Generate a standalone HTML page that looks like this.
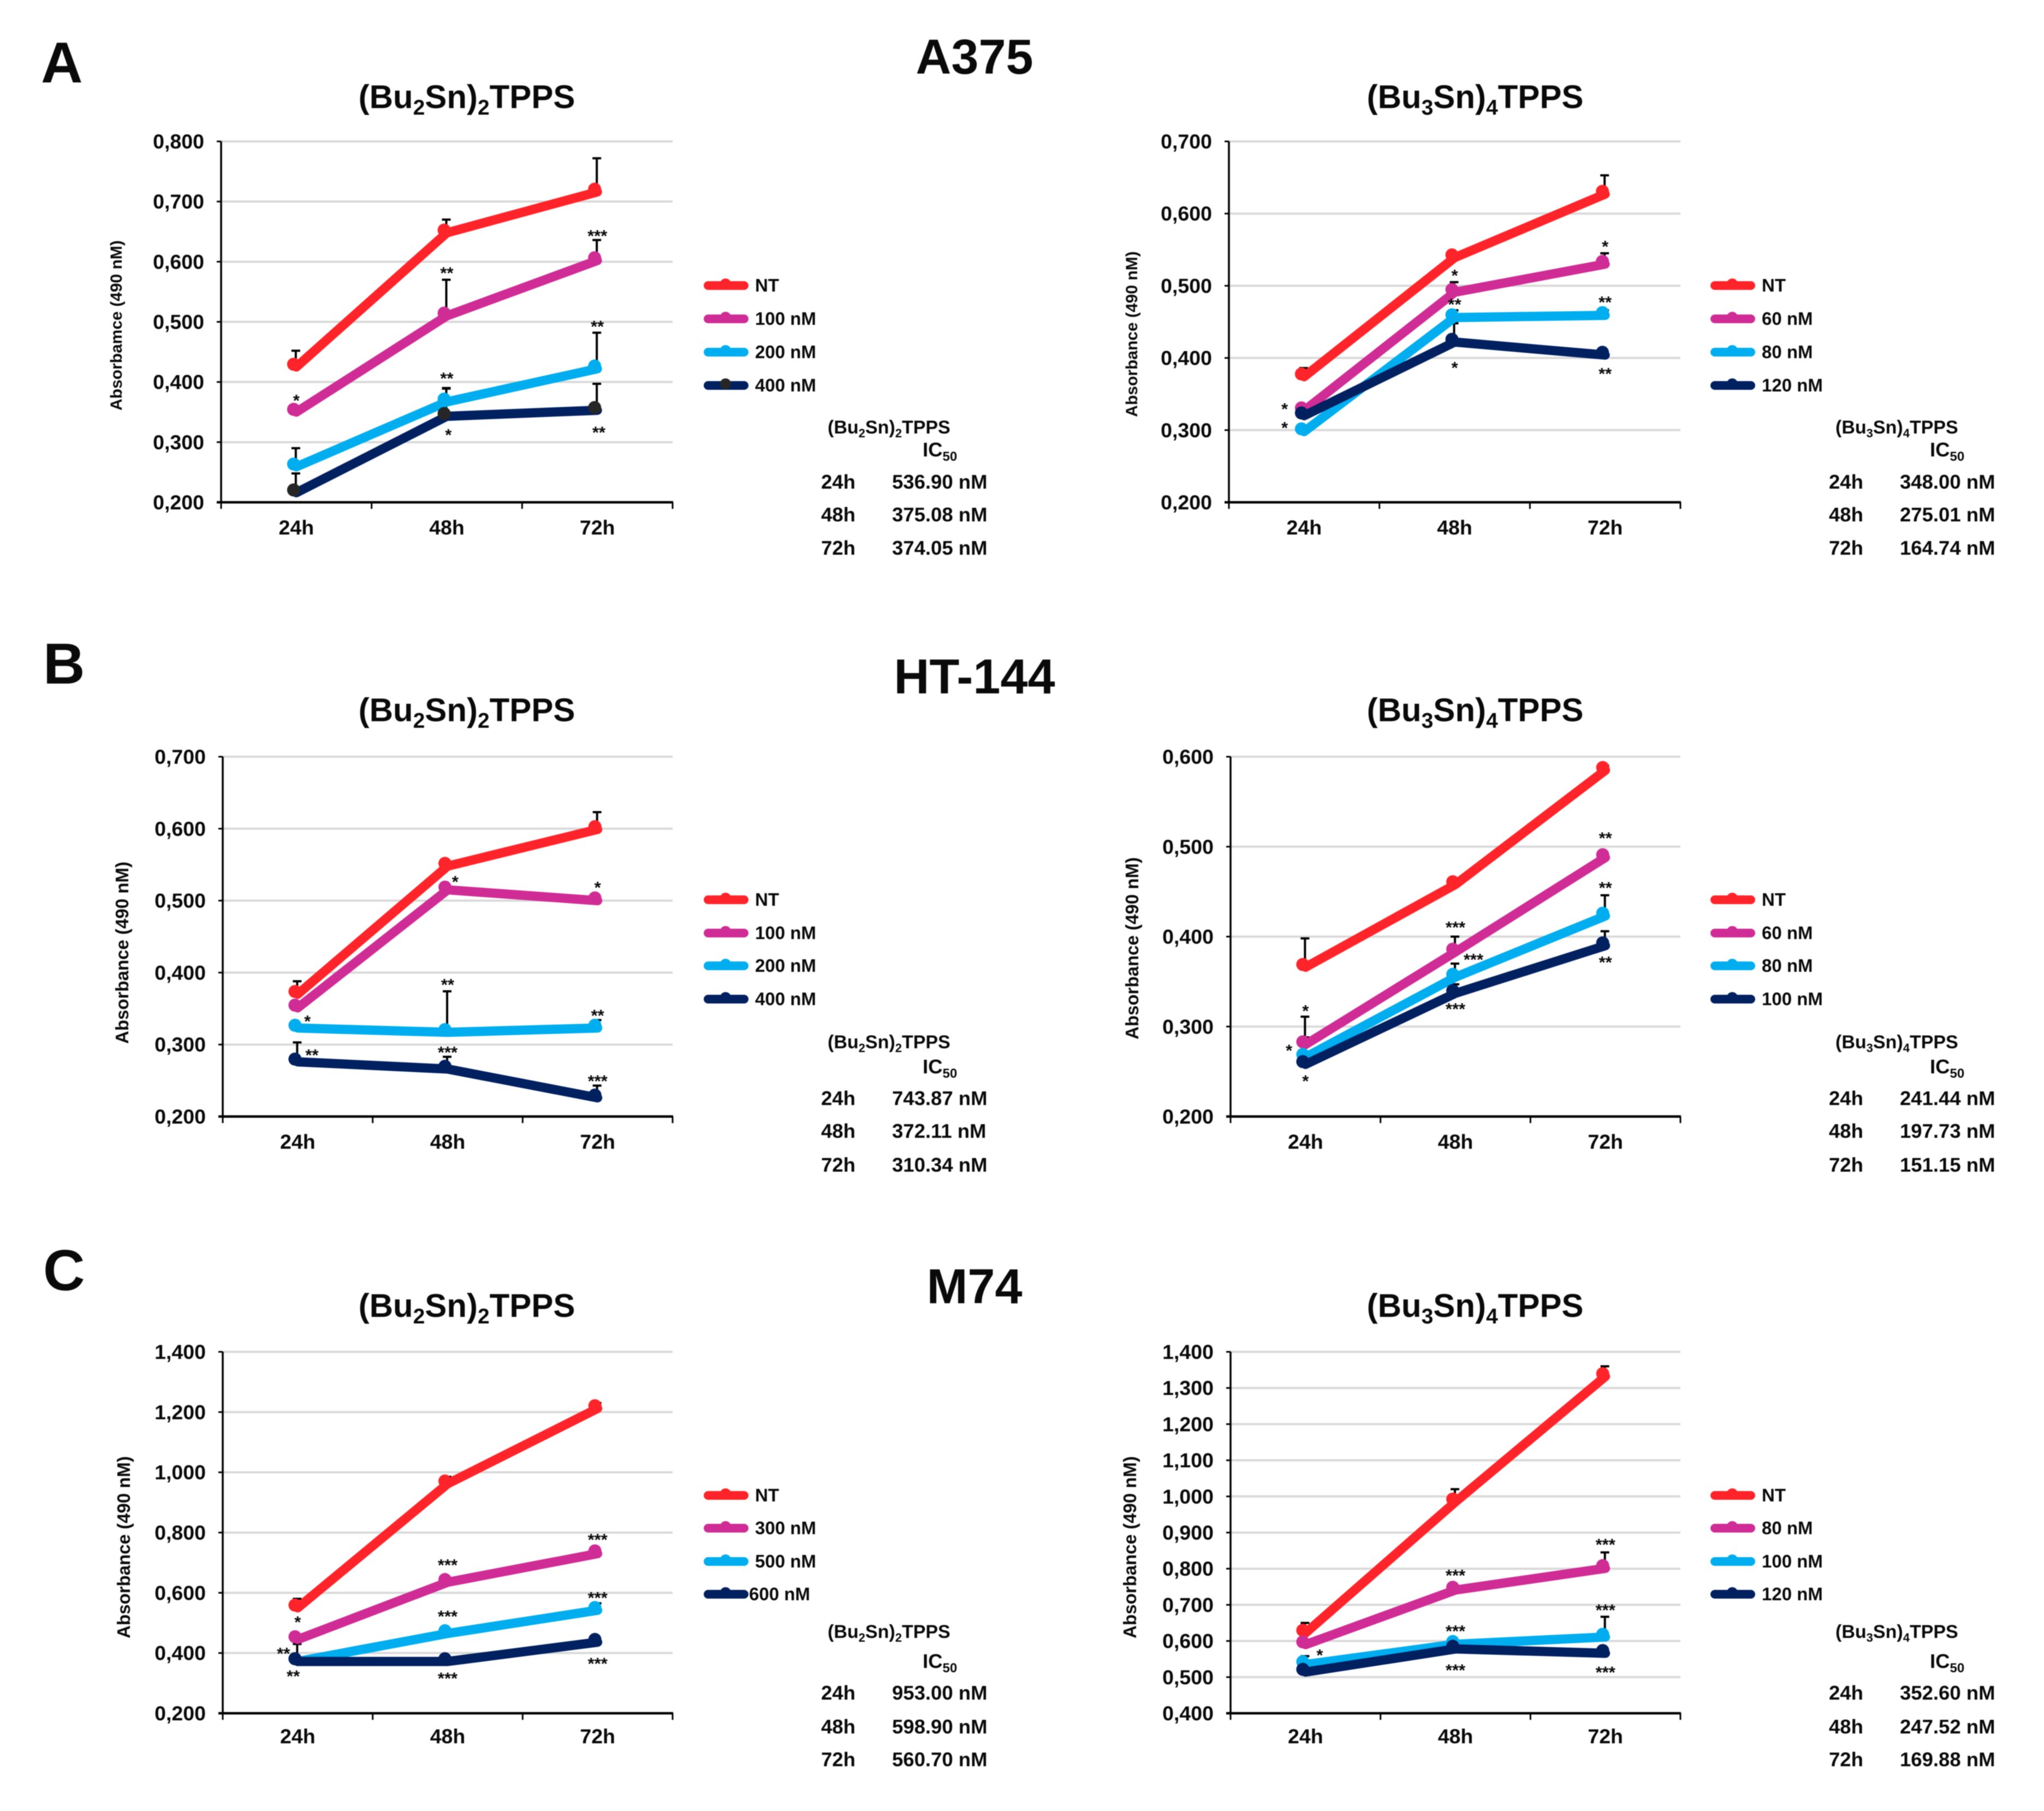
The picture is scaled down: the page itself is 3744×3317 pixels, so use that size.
<!DOCTYPE html>
<html lang="en">
<head>
<meta charset="utf-8">
<title>Absorbance of melanoma cell lines</title>
<style>
html,body{margin:0;padding:0;background:#fff;}
svg{display:block;filter:blur(0.8px);}
text{font-family:"Liberation Sans",Arial,sans-serif;font-weight:bold;fill:#0a0a0a;}
.panel{font-size:106px;}
.line{font-size:90px;text-anchor:middle;}
.title{font-size:60px;text-anchor:middle;}
.tt{font-size:34px;}
.ic{font-size:36.5px;}
.time{font-size:36.5px;}
.val{font-size:36.5px;}
</style>
</head>
<body>
<svg id="figure" width="3744" height="3317" viewBox="0 0 3744 3317" xmlns="http://www.w3.org/2000/svg">
<rect width="3744" height="3317" fill="#ffffff"/>
<text class="panel" x="75" y="151">A</text>
<text class="panel" x="79" y="1252">B</text>
<text class="panel" x="79" y="2363">C</text>
<text class="line" x="1785" y="135">A375</text>
<text class="line" x="1785" y="1270">HT-144</text>
<text class="line" x="1785" y="2387">M74</text>

<text class="title" x="855" y="198">(Bu<tspan dy="12" font-size="39">2</tspan><tspan dy="-12">Sn)</tspan><tspan dy="12" font-size="39">2</tspan><tspan dy="-12">TPPS</tspan></text>
<text class="title" x="2702" y="198">(Bu<tspan dy="12" font-size="39">3</tspan><tspan dy="-12">Sn)</tspan><tspan dy="12" font-size="39">4</tspan><tspan dy="-12">TPPS</tspan></text>
<text class="title" x="855" y="1321">(Bu<tspan dy="12" font-size="39">2</tspan><tspan dy="-12">Sn)</tspan><tspan dy="12" font-size="39">2</tspan><tspan dy="-12">TPPS</tspan></text>
<text class="title" x="2702" y="1321">(Bu<tspan dy="12" font-size="39">3</tspan><tspan dy="-12">Sn)</tspan><tspan dy="12" font-size="39">4</tspan><tspan dy="-12">TPPS</tspan></text>
<text class="title" x="855" y="2412">(Bu<tspan dy="12" font-size="39">2</tspan><tspan dy="-12">Sn)</tspan><tspan dy="12" font-size="39">2</tspan><tspan dy="-12">TPPS</tspan></text>
<text class="title" x="2702" y="2412">(Bu<tspan dy="12" font-size="39">3</tspan><tspan dy="-12">Sn)</tspan><tspan dy="12" font-size="39">4</tspan><tspan dy="-12">TPPS</tspan></text>

<g>
<text class="tt" x="1516" y="794">(Bu<tspan dy="7" font-size="22">2</tspan><tspan dy="-7">Sn)</tspan><tspan dy="7" font-size="22">2</tspan><tspan dy="-7">TPPS</tspan></text>
<text class="ic" x="1690" y="836">IC<tspan dy="8" font-size="24">50</tspan></text>
<text class="time" x="1504" y="895">24h</text><text class="val" x="1634" y="895">536.90 nM</text>
<text class="time" x="1504" y="955">48h</text><text class="val" x="1634" y="955">375.08 nM</text>
<text class="time" x="1504" y="1016">72h</text><text class="val" x="1634" y="1016">374.05 nM</text>
</g>
<g>
<text class="tt" x="3362" y="794">(Bu<tspan dy="7" font-size="22">3</tspan><tspan dy="-7">Sn)</tspan><tspan dy="7" font-size="22">4</tspan><tspan dy="-7">TPPS</tspan></text>
<text class="ic" x="3535" y="836">IC<tspan dy="8" font-size="24">50</tspan></text>
<text class="time" x="3350" y="895">24h</text><text class="val" x="3480" y="895">348.00 nM</text>
<text class="time" x="3350" y="955">48h</text><text class="val" x="3480" y="955">275.01 nM</text>
<text class="time" x="3350" y="1016">72h</text><text class="val" x="3480" y="1016">164.74 nM</text>
</g>
<g>
<text class="tt" x="1516" y="1920">(Bu<tspan dy="7" font-size="22">2</tspan><tspan dy="-7">Sn)</tspan><tspan dy="7" font-size="22">2</tspan><tspan dy="-7">TPPS</tspan></text>
<text class="ic" x="1690" y="1966">IC<tspan dy="8" font-size="24">50</tspan></text>
<text class="time" x="1504" y="2024">24h</text><text class="val" x="1634" y="2024">743.87 nM</text>
<text class="time" x="1504" y="2084">48h</text><text class="val" x="1634" y="2084">372.11 nM</text>
<text class="time" x="1504" y="2146">72h</text><text class="val" x="1634" y="2146">310.34 nM</text>
</g>
<g>
<text class="tt" x="3362" y="1920">(Bu<tspan dy="7" font-size="22">3</tspan><tspan dy="-7">Sn)</tspan><tspan dy="7" font-size="22">4</tspan><tspan dy="-7">TPPS</tspan></text>
<text class="ic" x="3535" y="1966">IC<tspan dy="8" font-size="24">50</tspan></text>
<text class="time" x="3350" y="2024">24h</text><text class="val" x="3480" y="2024">241.44 nM</text>
<text class="time" x="3350" y="2084">48h</text><text class="val" x="3480" y="2084">197.73 nM</text>
<text class="time" x="3350" y="2146">72h</text><text class="val" x="3480" y="2146">151.15 nM</text>
</g>
<g>
<text class="tt" x="1516" y="3000">(Bu<tspan dy="7" font-size="22">2</tspan><tspan dy="-7">Sn)</tspan><tspan dy="7" font-size="22">2</tspan><tspan dy="-7">TPPS</tspan></text>
<text class="ic" x="1690" y="3055">IC<tspan dy="8" font-size="24">50</tspan></text>
<text class="time" x="1504" y="3113">24h</text><text class="val" x="1634" y="3113">953.00 nM</text>
<text class="time" x="1504" y="3175">48h</text><text class="val" x="1634" y="3175">598.90 nM</text>
<text class="time" x="1504" y="3235">72h</text><text class="val" x="1634" y="3235">560.70 nM</text>
</g>
<g>
<text class="tt" x="3362" y="3000">(Bu<tspan dy="7" font-size="22">3</tspan><tspan dy="-7">Sn)</tspan><tspan dy="7" font-size="22">4</tspan><tspan dy="-7">TPPS</tspan></text>
<text class="ic" x="3535" y="3055">IC<tspan dy="8" font-size="24">50</tspan></text>
<text class="time" x="3350" y="3113">24h</text><text class="val" x="3480" y="3113">352.60 nM</text>
<text class="time" x="3350" y="3175">48h</text><text class="val" x="3480" y="3175">247.52 nM</text>
<text class="time" x="3350" y="3235">72h</text><text class="val" x="3480" y="3235">169.88 nM</text>
</g>
</svg>
<script>
// ---------- shared ----------
const categories = ['24h', '48h', '72h'];

// ---------- A375 (Bu2Sn)2TPPS ----------
const a1Ticks = ['0,200', '0,300', '0,400', '0,500', '0,600', '0,700', '0,800'];
const a1Doses = ['NT', '100 nM', '200 nM', '400 nM'];
const a1Nt = [0.425, 0.648, 0.716];
const a1Low = [0.350, 0.510, 0.602];
const a1Mid = [0.259, 0.367, 0.422];
const a1High = [0.216, 0.343, 0.353];
const a1NtErr = [0.452, 0.670, 0.772];
const a1LowErr = [null, 0.570, 0.636];
const a1MidErr = [0.290, 0.390, 0.482];
const a1HighErr = [0.248, 0.389, 0.397];
const a1Stars = [[0, 0.376, '*'], [1, 0.588, '**'], [2, 0.650, '***'], [1, 0.413, '**'], [2, 0.499, '**'], [1.01, 0.319, '*'], [2.01, 0.323, '**']];

// ---------- A375 (Bu3Sn)4TPPS ----------
const a2Ticks = ['0,200', '0,300', '0,400', '0,500', '0,600', '0,700'];
const a2Doses = ['NT', '60 nM', '80 nM', '120 nM'];
const a2Nt = [0.374, 0.539, 0.627];
const a2Low = [0.327, 0.491, 0.530];
const a2Mid = [0.298, 0.456, 0.459];
const a2High = [0.320, 0.422, 0.404];
const a2NtErr = [0.386, null, 0.653];
const a2LowErr = [null, 0.505, 0.545];
const a2MidErr = [null, 0.466, 0.466];
const a2HighErr = [null, 0.448, null];
const a2Stars = [[-0.13, 0.335, '*'], [-0.13, 0.309, '*'], [1, 0.520, '*'], [1, 0.480, '**'], [1, 0.392, '*'], [2, 0.560, '*'], [2, 0.483, '**'], [2, 0.384, '**']];

// ---------- HT-144 (Bu2Sn)2TPPS ----------
const b1Ticks = ['0,200', '0,300', '0,400', '0,500', '0,600', '0,700'];
const b1Doses = ['NT', '100 nM', '200 nM', '400 nM'];
const b1Nt = [0.370, 0.548, 0.599];
const b1Low = [0.351, 0.515, 0.500];
const b1Mid = [0.323, 0.317, 0.323];
const b1High = [0.276, 0.266, 0.226];
const b1NtErr = [0.388, null, 0.623];
const b1LowErr = [null, null, null];
const b1MidErr = [null, 0.374, 0.334];
const b1HighErr = [0.303, 0.283, 0.243];
const b1Stars = [[0.065, 0.338, '*'], [0.095, 0.291, '**'], [1.05, 0.532, '*'], [1, 0.389, '**'], [1, 0.295, '***'], [2, 0.524, '*'], [2, 0.346, '**'], [2, 0.255, '***']];

// ---------- HT-144 (Bu3Sn)4TPPS ----------
const b2Ticks = ['0,200', '0,300', '0,400', '0,500', '0,600'];
const b2Doses = ['NT', '60 nM', '80 nM', '100 nM'];
const b2Nt = [0.366, 0.458, 0.585];
const b2Low = [0.280, 0.383, 0.488];
const b2Mid = [0.266, 0.355, 0.423];
const b2High = [0.258, 0.337, 0.390];
const b2NtErr = [0.398, 0.465, 0.590];
const b2LowErr = [0.311, 0.400, null];
const b2MidErr = [0.288, 0.370, 0.446];
const b2HighErr = [null, 0.347, 0.406];
const b2Stars = [[2, 0.514, '**'], [2, 0.459, '**'], [1, 0.415, '***'], [1.12, 0.379, '***'], [1, 0.324, '***'], [2, 0.376, '**'], [0, 0.322, '*'], [-0.11, 0.278, '*'], [0, 0.244, '*']];

// ---------- M74 (Bu2Sn)2TPPS ----------
const c1Ticks = ['0,200', '0,400', '0,600', '0,800', '1,000', '1,200', '1,400'];
const c1Doses = ['NT', '300 nM', '500 nM', '600 nM'];
const c1Nt = [0.550, 0.962, 1.212];
const c1Low = [0.445, 0.635, 0.730];
const c1Mid = [0.372, 0.465, 0.542];
const c1High = [0.372, 0.372, 0.436];
const c1NtErr = [0.580, 0.985, 1.230];
const c1LowErr = [null, null, null];
const c1MidErr = [null, null, 0.565];
const c1HighErr = [0.430, null, null];
const c1Stars = [[0, 0.516, '*'], [-0.095, 0.412, '**'], [-0.03, 0.337, '**'], [1, 0.706, '***'], [1, 0.535, '***'], [1, 0.330, '***'], [2, 0.790, '***'], [2, 0.597, '***'], [2, 0.379, '***']];

// ---------- M74 (Bu3Sn)4TPPS ----------
const c2Ticks = ['0,400', '0,500', '0,600', '0,700', '0,800', '0,900', '1,000', '1,100', '1,200', '1,300', '1,400'];
const c2Doses = ['NT', '80 nM', '100 nM', '120 nM'];
const c2Nt = [0.622, 0.985, 1.332];
const c2Low = [0.590, 0.741, 0.801];
const c2Mid = [0.535, 0.591, 0.611];
const c2High = [0.514, 0.578, 0.566];
const c2NtErr = [0.650, 1.020, 1.360];
const c2LowErr = [null, null, 0.845];
const c2MidErr = [0.558, null, 0.667];
const c2HighErr = [null, null, null];
const c2Stars = [[0.095, 0.572, '*'], [1, 0.793, '***'], [1, 0.639, '***'], [1, 0.531, '***'], [2, 0.878, '***'], [2, 0.697, '***'], [2, 0.525, '***']];

// ---------- drawing ----------
const NS = 'http://www.w3.org/2000/svg';
const fig = document.getElementById('figure');
const colors = ['#ff2429', '#cf2c95', '#00aeef', '#002060'];

function el(tag, attrs, parent, txt) {
  const n = document.createElementNS(NS, tag);
  for (const k in attrs) n.setAttribute(k, attrs[k]);
  if (txt !== undefined) n.textContent = txt;
  parent.appendChild(n);
  return n;
}
function num(s) { return parseFloat(s.replace(',', '.')); }

function drawChart(c) {
  const g = el('g', {}, fig);
  
  
  const min = num(c.ticks[0]);
  const max = num(c.ticks[c.ticks.length - 1]);
  const yScale = v => c.bottom - (v - min) / (max - min) * (c.bottom - c.top);
  const xScale = i => c.left + (i + 0.5) * (c.right - c.left) / categories.length;

  // gridlines and y ticks
  c.ticks.forEach((t, i) => {
    const y = yScale(num(t));
    if (i > 0) {
      const gl = el('line', { x1: c.left, x2: c.right, y1: y, y2: y, stroke: '#d9d9d9', 'stroke-width': 4 }, g);
      
      
    }
    const tk = el('line', { x1: c.left - 8, x2: c.left, y1: y, y2: y, stroke: '#000', 'stroke-width': 3 }, g);
    
    
    const lb = el('text', { x: c.left - 31, y: y + 13, 'font-size': 37.5, 'text-anchor': 'end' }, g, t);
    
    
  });

  // axes
  const ya = el('line', { x1: c.left, x2: c.left, y1: c.top, y2: c.bottom, stroke: '#000', 'stroke-width': 3.5 }, g);
  
  
  const xa = el('line', { x1: c.left - 8, x2: c.right + 1, y1: c.bottom, y2: c.bottom, stroke: '#000', 'stroke-width': 4.5 }, g);
  
  
  for (let i = 0; i <= categories.length; i++) {
    const x = c.left + i * (c.right - c.left) / categories.length;
    const tk = el('line', { x1: x, x2: x, y1: c.bottom, y2: c.bottom + 12, stroke: '#000', 'stroke-width': 3 }, g);
    
    
  }
  categories.forEach((cat, i) => {
    const lb = el('text', { x: xScale(i), y: c.bottom + c.catGap, 'font-size': 37.5, 'text-anchor': 'middle' }, g, cat);
    
    
  });

  // axis title
  const at = el('text', { transform: 'translate(' + c.titleX + ',' + c.titleY + ') rotate(-90)', 'font-size': c.titleSize, 'text-anchor': 'middle' }, g, c.axisTitle);
  
  

  // error bars
  c.errors.forEach((errs, s) => {
    errs.forEach((e, i) => {
      if (e === null) return;
      const x = xScale(i) - 1;
      const stem = el('line', { x1: x, x2: x, y1: yScale(e), y2: yScale(c.series[s][i]), stroke: '#000', 'stroke-width': 4 }, g);
      
      
      const cap = el('line', { x1: x - 8, x2: x + 8, y1: yScale(e), y2: yScale(e), stroke: '#000', 'stroke-width': 4 }, g);
      
      
    });
  });

  // series
  c.series.forEach((vals, s) => {
    const pts = vals.map((v, i) => xScale(i) + ',' + yScale(v)).join(' ');
    const pl = el('polyline', { points: pts, fill: 'none', stroke: colors[s], 'stroke-width': 17, 'stroke-linecap': 'round', 'stroke-linejoin': 'round' }, g);
    
    
    vals.forEach((v, i) => {
      const fill = (c.greyMarker && s === 3) ? '#262626' : colors[s];
      const m = el('circle', { cx: xScale(i) - 5, cy: yScale(v) - 5, r: 12, fill: fill }, g);
      
      
    });
  });

  // significance asterisks
  c.stars.forEach(st => {
    const t = el('text', { x: xScale(st[0]), y: yScale(st[1]) + 18, 'font-size': 31, 'text-anchor': 'middle' }, g, st[2]);
    
    
  });

  // legend
  c.doses.forEach((d, s) => {
    const y = c.legendY[s];
    const ln = el('line', { x1: c.legendX + 14, x2: c.legendX + 80, y1: y, y2: y, stroke: colors[s], 'stroke-width': 16, 'stroke-linecap': 'round' }, g);
    
    
    const fill = (c.greyMarker && s === 3) ? '#262626' : colors[s];
    const m = el('circle', { cx: c.legendX + 46, cy: y - 3, r: 10, fill: fill }, g);
    
    
    const shift = (c.legendNudge && s === 3) ? c.legendNudge : 0;
    const t = el('text', { x: c.legendX + 100 + shift, y: y + 11, 'font-size': 33 }, g, d);
    
    
  });
}

const rowA = { top: 259, bottom: 920, catGap: 59, legendY: [523, 584, 645, 706] };
const rowB = { top: 1386, bottom: 2045, catGap: 59, legendY: [1648, 1709, 1769, 1830] };
const rowC = { top: 2476, bottom: 3138, catGap: 55, legendY: [2739, 2799, 2860, 2920] };

drawChart(Object.assign({}, rowA, { id: 'a375-bu2sn', left: 405, right: 1232, legendX: 1283, ticks: a1Ticks, doses: a1Doses,
  series: [a1Nt, a1Low, a1Mid, a1High], errors: [a1NtErr, a1LowErr, a1MidErr, a1HighErr], stars: a1Stars,
  axisTitle: 'Absorbamce (490 nM)', titleX: 223, titleY: 596, titleSize: 30, greyMarker: true }));
drawChart(Object.assign({}, rowA, { id: 'a375-bu3sn', left: 2251, right: 3078, legendX: 3127, ticks: a2Ticks, doses: a2Doses,
  series: [a2Nt, a2Low, a2Mid, a2High], errors: [a2NtErr, a2LowErr, a2MidErr, a2HighErr], stars: a2Stars,
  axisTitle: 'Absorbance (490 nM)', titleX: 2083, titleY: 612, titleSize: 30 }));
drawChart(Object.assign({}, rowB, { id: 'ht144-bu2sn', left: 408, right: 1232, legendX: 1283, ticks: b1Ticks, doses: b1Doses,
  series: [b1Nt, b1Low, b1Mid, b1High], errors: [b1NtErr, b1LowErr, b1MidErr, b1HighErr], stars: b1Stars,
  axisTitle: 'Absorbance (490 nM)', titleX: 235, titleY: 1745, titleSize: 33 }));
drawChart(Object.assign({}, rowB, { id: 'ht144-bu3sn', left: 2254, right: 3078, legendX: 3127, ticks: b2Ticks, doses: b2Doses,
  series: [b2Nt, b2Low, b2Mid, b2High], errors: [b2NtErr, b2LowErr, b2MidErr, b2HighErr], stars: b2Stars,
  axisTitle: 'Absorbance (490 nM)', titleX: 2085, titleY: 1737, titleSize: 33 }));
drawChart(Object.assign({}, rowC, { id: 'm74-bu2sn', left: 408, right: 1232, legendX: 1283, ticks: c1Ticks, doses: c1Doses,
  series: [c1Nt, c1Low, c1Mid, c1High], errors: [c1NtErr, c1LowErr, c1MidErr, c1HighErr], stars: c1Stars,
  axisTitle: 'Absorbance (490 nM)', titleX: 238, titleY: 2834, titleSize: 33, legendNudge: -11 }));
drawChart(Object.assign({}, rowC, { id: 'm74-bu3sn', left: 2254, right: 3078, legendX: 3127, ticks: c2Ticks, doses: c2Doses,
  series: [c2Nt, c2Low, c2Mid, c2High], errors: [c2NtErr, c2LowErr, c2MidErr, c2HighErr], stars: c2Stars,
  axisTitle: 'Absorbance (490 nM)', titleX: 2081, titleY: 2834, titleSize: 33 }));
</script>
</body>
</html>
